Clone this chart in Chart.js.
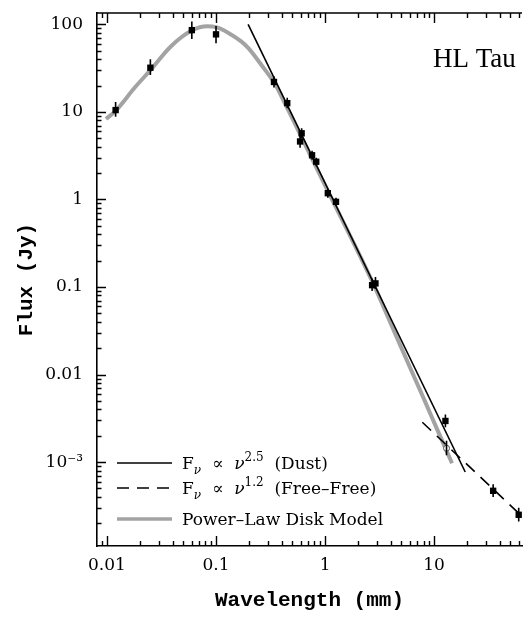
<!DOCTYPE html>
<html>
<head>
<meta charset="utf-8">
<script src="https://cdn.jsdelivr.net/npm/chart.js@4.4.0/dist/chart.umd.min.js"></script>
<style>
  body { margin: 0; background: #fff; }
  #wrap { width: 527px; height: 617px; }
</style>
</head>
<body>
<div id="wrap"><canvas id="sed-chart"></canvas></div>
<script>
// Observed fluxes: wavelength (mm), flux (Jy), error bar ends
const obsWave = [0.012, 0.025, 0.06, 0.1, 0.34, 0.45, 0.61, 0.59, 0.76, 0.83, 1.06, 1.26, 2.7, 2.9, 12.7, 34.8, 59.7];
const obsFlux = [10.5, 32, 86, 77, 22, 12.6, 5.7, 4.6, 3.2, 2.7, 1.18, 0.94, 0.105, 0.11, 2.95e-3, 4.7e-4, 2.5e-4];
const obsLow  = [8.8, 26.5, 68, 61, 19, 11, 5.0, 3.9, 2.85, 2.4, 1.05, 0.84, 0.09, 0.095, 2.5e-3, 4.0e-4, 2.1e-4];
const obsHigh = [13, 40, 108, 96, 25.5, 14.5, 6.5, 5.3, 3.6, 3.0, 1.32, 1.05, 0.125, 0.13, 3.5e-3, 5.6e-4, 3.0e-4];

// open symbol near 13 mm
const openWave = [13];
const openFlux = [1.44e-3];
const openLow = [1.2e-3];
const openHigh = [1.75e-3];

// F ~ nu^2.5 (dust) and F ~ nu^1.2 (free-free), end points
const dustWave = [0.197, 19.3];
const dustFlux = [100, 7.7e-4];
const ffWave = [7.8, 64];
const ffFlux = [2.85e-3, 2.4e-4];

// power-law disk model curve
const diskWave = [0.0098, 0.012, 0.018, 0.025, 0.0385, 0.06, 0.083, 0.1, 0.13, 0.17, 0.2, 0.25, 0.3, 0.34, 0.4, 0.5, 1, 2.76, 4, 6, 8.1, 10, 14.6];
const diskFlux = [8.3, 10.3, 19, 30, 56, 85, 95, 93, 80, 64, 53, 37, 27.2, 22, 14.9, 8.5, 1.45, 0.11, 0.0384, 0.0121, 5.2e-3, 2.84e-3, 9.7e-4];

const xTickLabels = [0.01, 0.1, 1, 10];
const yTickLabels = [100, 10, 1, 0.1, 0.01, 0.001];

function pts(xs, ys) {
    return xs.map((x, i) => ({ x: x, y: ys[i] }));
}

function isDecade(v) {
    const l = Math.log10(v);
    return Math.abs(l - Math.round(l)) < 1e-6;
}

function inList(list, v) {
    return list.some(l => Math.abs(Math.log10(l) - Math.log10(v)) < 1e-6);
}

// 1..9 x 10^k between min and max
function logTicks(min, max) {
    const out = [];
    for (let e = Math.floor(Math.log10(min)); e <= Math.ceil(Math.log10(max)); e++) {
        for (let m = 1; m <= 9; m++) {
            const v = parseFloat((m * Math.pow(10, e)).toPrecision(6));
            if (v >= min && v <= max) out.push({ value: v });
        }
    }
    return out;
}

// inward tick marks + top frame line
const tickMarks = {
    id: 'tickMarks',
    afterDraw(chart) {
        const { ctx, chartArea: a, scales } = chart;
        ctx.save();
        ctx.strokeStyle = '#000';
        ctx.lineWidth = 1.4;
        ctx.beginPath();
        ctx.moveTo(a.left, a.top);
        ctx.lineTo(a.right, a.top);
        scales.x.ticks.forEach(t => {
            const px = Math.round(scales.x.getPixelForValue(t.value)) + 0.5;
            const len = isDecade(t.value) ? 10 : 5;
            ctx.moveTo(px, a.bottom);
            ctx.lineTo(px, a.bottom - len);
            ctx.moveTo(px, a.top);
            ctx.lineTo(px, a.top + len);
        });
        scales.y.ticks.forEach(t => {
            const py = Math.round(scales.y.getPixelForValue(t.value)) + 0.5;
            const len = isDecade(t.value) ? 9 : 4.5;
            ctx.moveTo(a.left, py);
            ctx.lineTo(a.left + len, py);
        });
        ctx.stroke();
        ctx.restore();
    }
};

// vertical error bars
const errorBars = {
    id: 'errorBars',
    afterDatasetsDraw(chart) {
        const { ctx, scales } = chart;
        const draw = (xs, lo, hi) => {
            xs.forEach((x, i) => {
                const px = scales.x.getPixelForValue(x);
                ctx.moveTo(px, scales.y.getPixelForValue(lo[i]));
                ctx.lineTo(px, scales.y.getPixelForValue(hi[i]));
            });
        };
        ctx.save();
        ctx.strokeStyle = '#000';
        ctx.lineWidth = 1.6;
        ctx.beginPath();
        draw(obsWave, obsLow, obsHigh);
        draw(openWave, openLow, openHigh);
        ctx.stroke();
        ctx.restore();
    }
};

// in-plot legend and source name
const notes = {
    id: 'notes',
    afterDraw(chart) {
        const ctx = chart.ctx;
        ctx.save();
        ctx.fillStyle = '#000';
        ctx.textBaseline = 'alphabetic';
        ctx.font = '27px "Liberation Serif"';
        ctx.fillText('HL Tau', 433, 67);

        const x0 = 117, x1 = 172, tx = 182;
        const rows = [463, 488, 519];

        ctx.strokeStyle = '#000';
        ctx.lineWidth = 1.6;
        ctx.beginPath();
        ctx.moveTo(x0, rows[0]); ctx.lineTo(x1, rows[0]);
        ctx.stroke();
        ctx.setLineDash([12, 8]);
        ctx.beginPath();
        ctx.moveTo(x0, rows[1]); ctx.lineTo(x1, rows[1]);
        ctx.stroke();
        ctx.setLineDash([]);
        ctx.strokeStyle = '#a3a3a3';
        ctx.lineWidth = 3.5;
        ctx.beginPath();
        ctx.moveTo(x0, rows[2]); ctx.lineTo(x1, rows[2]);
        ctx.stroke();

        const main = '17px "DejaVu Serif"';
        const small = '12px "DejaVu Serif"';
        const nu = 'italic 17px "DejaVu Serif"';
        const nuSmall = 'italic 12px "DejaVu Serif"';
        const law = (y, power, tag) => {
            let x = tx;
            const parts = [
                [main, 'F', 0], [nuSmall, 'ν', 5], [main, '  ∝  ', 0],
                [nu, 'ν', 0], [small, power, -8], [main, '  ' + tag, 0]
            ];
            parts.forEach(p => {
                ctx.font = p[0];
                ctx.fillText(p[1], x, y + p[2]);
                x += ctx.measureText(p[1]).width;
            });
        };
        law(rows[0] + 6, '2.5', '(Dust)');
        law(rows[1] + 6, '1.2', '(Free\u2013Free)');
        ctx.font = main;
        ctx.fillText('Power\u2013Law Disk Model', tx, rows[2] + 6);
        ctx.restore();
    }
};

const ctx = document.getElementById('sed-chart').getContext('2d');
new Chart(ctx, {
    type: 'scatter',
    data: {
        datasets: [
            {
                data: pts(obsWave, obsFlux),
                pointStyle: 'rect',
                pointRadius: 4.5,
                backgroundColor: '#000',
                borderColor: '#000',
                borderWidth: 0
            },
            {
                data: pts(openWave, openFlux),
                pointStyle: 'circle',
                pointRadius: 3,
                backgroundColor: '#fff',
                borderColor: '#555',
                borderWidth: 1
            },
            {
                data: pts(dustWave, dustFlux),
                showLine: true,
                pointRadius: 0,
                borderColor: '#000',
                borderWidth: 1.6
            },
            {
                data: pts(ffWave, ffFlux),
                showLine: true,
                pointRadius: 0,
                borderColor: '#000',
                borderWidth: 1.6,
                borderDash: [12, 8]
            },
            {
                data: pts(diskWave, diskFlux),
                showLine: true,
                pointRadius: 0,
                borderColor: '#a3a3a3',
                borderWidth: 4,
                cubicInterpolationMode: 'monotone'
            }
        ]
    },
    options: {
        responsive: true,
        maintainAspectRatio: false,
        animation: false,
        layout: { padding: { top: 13, right: 0, left: 0, bottom: 0 } },
        plugins: {
            legend: { display: false },
            tooltip: { enabled: false }
        },
        scales: {
            x: {
                type: 'logarithmic',
                min: 0.0081,
                max: 64,
                afterFit: s => { s.height = 71; s.paddingLeft = 0; s.paddingRight = 0; },
                afterBuildTicks: s => { s.ticks = logTicks(s.min, s.max); },
                grid: { display: false, drawTicks: false },
                border: { display: true, color: '#000', width: 1.6 },
                ticks: {
                    autoSkip: false,
                    maxRotation: 0,
                    padding: 9,
                    color: '#000',
                    font: { family: 'DejaVu Serif', size: 17 },
                    callback: v => inList(xTickLabels, v) ? String(v) : ''
                },
                title: {
                    display: true,
                    text: 'Wavelength (mm)',
                    color: '#000',
                    font: { family: 'Liberation Mono', size: 21, weight: 'bold' },
                    padding: { top: 0, bottom: 4 }
                }
            },
            y: {
                type: 'logarithmic',
                min: 1.1e-4,
                max: 135,
                afterFit: s => { s.width = 97; s.paddingTop = 0; s.paddingBottom = 0; },
                afterBuildTicks: s => { s.ticks = logTicks(s.min, s.max); },
                grid: { display: false, drawTicks: false },
                border: { display: true, color: '#000', width: 1.6 },
                ticks: {
                    autoSkip: false,
                    padding: 14,
                    color: '#000',
                    font: { family: 'DejaVu Serif', size: 17 },
                    callback: v => {
                        if (!inList(yTickLabels, v)) return '';
                        return v < 0.005 ? '10\u207B\u00B3' : String(v);
                    }
                },
                title: {
                    display: true,
                    text: 'Flux (Jy)',
                    color: '#000',
                    font: { family: 'Liberation Mono', size: 21, weight: 'bold' },
                    padding: { top: 14, bottom: 0 }
                }
            }
        }
    },
    plugins: [errorBars, tickMarks, notes]
});
</script>
</body>
</html>
